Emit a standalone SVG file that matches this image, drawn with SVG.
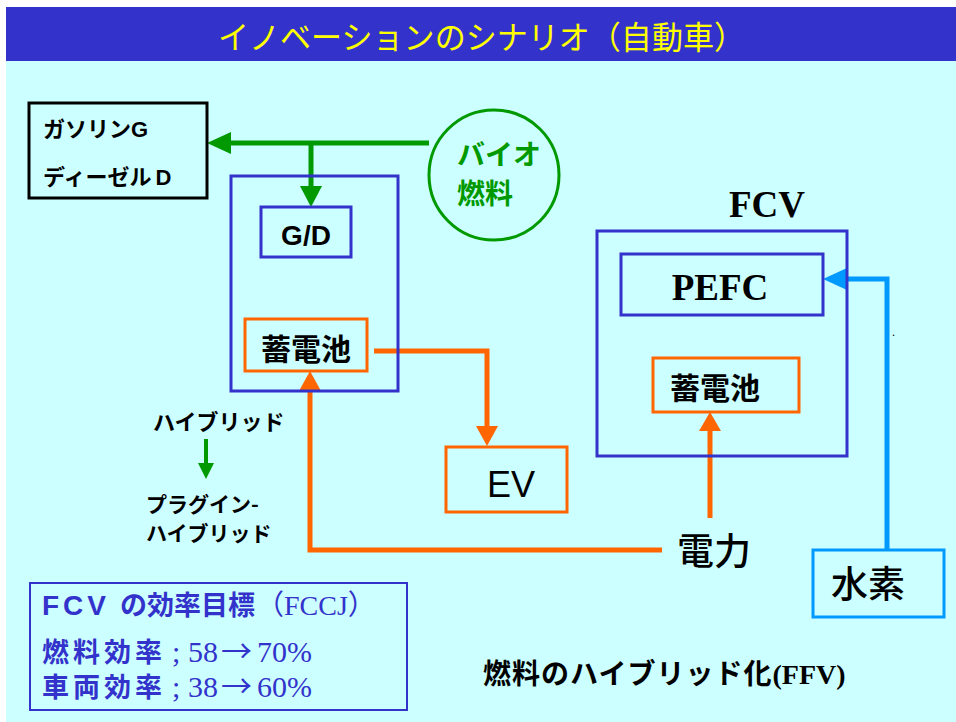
<svg xmlns="http://www.w3.org/2000/svg" width="956" height="722" viewBox="0 0 956 722">
<style>
.jp{font-family:"Liberation Sans","Noto Sans CJK JP",sans-serif}
.cj{font-family:"Noto Sans CJK JP",sans-serif}
.tm{font-family:"Liberation Serif","Noto Sans CJK JP",serif}
.b{font-weight:bold}
.n{font-weight:normal;letter-spacing:0}
.bx{fill:none;stroke-width:3}
.blu{stroke:#3333CC}
.org{stroke:#FF6600}
.ln{fill:none;stroke-width:5;stroke-linejoin:miter}
</style>
<rect x="0" y="0" width="956" height="722" fill="#FFFFFF"/>
<rect x="6" y="61" width="950" height="661" fill="#CCFFFF"/>
<rect x="6" y="7" width="950" height="54" fill="#3333CC"/>
<text class="cj" x="218" y="49" font-size="32" fill="#FFFF00" textLength="527" lengthAdjust="spacingAndGlyphs">イノベーションのシナリオ（自動車）</text>

<g id="connectors">
  <g fill="#009900" stroke="#009900">
    <line class="ln" x1="429" y1="143" x2="229" y2="143"/>
    <polygon points="207,143 231,132 231,154" stroke="none"/>
    <line class="ln" x1="311" y1="143" x2="311" y2="188"/>
    <polygon points="311,207 300,186 322,186" stroke="none"/>
    <line x1="206" y1="439" x2="206" y2="465" stroke-width="4"/>
    <polygon points="206,479 198,463 214,463" stroke="none"/>
  </g>
  <g fill="#FF6600" stroke="#FF6600">
    <polyline class="ln" points="374,351 487,351 487,428"/>
    <polygon points="487,446 476,426 498,426" stroke="none"/>
    <polyline class="ln" points="662,550 310,550 310,389"/>
    <polygon points="310,371 299,391 321,391" stroke="none"/>
    <line class="ln" x1="710" y1="518" x2="710" y2="429"/>
    <polygon points="710,412 699,431 721,431" stroke="none"/>
  </g>
  <g fill="#0099FF" stroke="#0099FF">
    <polyline class="ln" points="887,550 887,279 845,279"/>
    <polygon points="823,279 847,268 847,290" stroke="none"/>
  </g>
</g>

<g id="gasoline">
  <rect class="bx" x="29" y="103" width="178" height="95" stroke="#000000"/>
  <text class="jp b" x="43" y="137" font-size="22" fill="#000">ガソリンG</text>
  <text class="jp b" x="43" y="185" font-size="22" fill="#000">ディーゼル<tspan dx="4">D</tspan></text>
</g>

<g id="bio">
  <circle cx="494" cy="175" r="65" fill="none" stroke="#009900" stroke-width="3"/>
  <text class="cj b" x="457" y="165" font-size="28" fill="#009900">バイオ</text>
  <text class="cj b" x="457" y="204" font-size="28" fill="#009900">燃料</text>
</g>

<g id="hybrid">
  <rect class="bx blu" x="231" y="176" width="167" height="215"/>
</g>
<g id="gd">
  <rect class="bx blu" x="261" y="207" width="90" height="50"/>
  <text class="jp b" x="306" y="245" font-size="28" fill="#000" text-anchor="middle">G/D</text>
</g>
<g id="battery-hybrid">
  <rect class="bx org" x="245" y="319" width="122" height="52"/>
  <text class="cj b" x="306" y="360" font-size="30" fill="#000" text-anchor="middle">蓄電池</text>
</g>

<g id="ev">
  <rect class="bx org" x="446" y="447" width="121" height="65"/>
  <text class="jp" x="511" y="497" font-size="36" fill="#000" text-anchor="middle">EV</text>
</g>

<g id="fcv">
  <text class="tm b" x="767" y="217" font-size="37" fill="#000" text-anchor="middle">FCV</text>
  <rect class="bx blu" x="597" y="231" width="250" height="225"/>
</g>
<g id="pefc">
  <rect class="bx blu" x="621" y="254" width="202" height="61"/>
  <text class="tm b" x="720" y="300" font-size="37" fill="#000" text-anchor="middle">PEFC</text>
</g>
<g id="battery-fcv">
  <rect class="bx org" x="653" y="358" width="146" height="54"/>
  <text class="cj b" x="715" y="399" font-size="30" fill="#000" text-anchor="middle">蓄電池</text>
</g>
<text class="tm" x="892" y="336" font-size="12" fill="#000">.</text>

<g id="power">
  <text class="cj" x="714" y="565" font-size="37" fill="#000" text-anchor="middle" font-weight="500">電力</text>
</g>

<g id="hydrogen">
  <rect x="813" y="550" width="131" height="67" fill="none" stroke="#0099FF" stroke-width="3"/>
  <text class="cj" x="868" y="598" font-size="37" fill="#000" text-anchor="middle" font-weight="500">水素</text>
</g>

<g id="hybrid-labels">
  <text class="cj b" x="153" y="430" font-size="22" fill="#000">ハイブリッド</text>
  <text class="cj b" x="146" y="512" font-size="21" fill="#000">プラグイン-</text>
  <text class="cj b" x="146" y="541" font-size="21" fill="#000">ハイブリッド</text>
</g>

<g id="efficiency">
  <rect x="30" y="583" width="377" height="127" fill="none" stroke="#3333CC" stroke-width="2"/>
  <text class="jp b" x="42" y="615" font-size="28" fill="#3333CC"><tspan letter-spacing="4">FCV</tspan><tspan x="120" class="cj" font-size="27">の効率目標</tspan><tspan class="tm n" x="256">（FCCJ）</tspan></text>
  <text class="cj b" x="42" y="662" font-size="27" fill="#3333CC" letter-spacing="4">燃料効率<tspan class="tm n" x="172" font-size="30">;</tspan><tspan class="tm n" x="188" font-size="30">58</tspan><tspan class="cj n" x="221" font-size="31">→</tspan><tspan class="tm n" x="257" font-size="30">70%</tspan></text>
  <text class="cj b" x="42" y="697" font-size="27" fill="#3333CC" letter-spacing="4">車両効率<tspan class="tm n" x="172" font-size="30">;</tspan><tspan class="tm n" x="188" font-size="30">38</tspan><tspan class="cj n" x="221" font-size="31">→</tspan><tspan class="tm n" x="257" font-size="30">60%</tspan></text>
</g>

<g id="ffv">
  <text class="cj b" x="483" y="684" font-size="28" fill="#000" letter-spacing="1">燃料のハイブリッド化<tspan class="tm" letter-spacing="0">(FFV)</tspan></text>
</g>
</svg>
